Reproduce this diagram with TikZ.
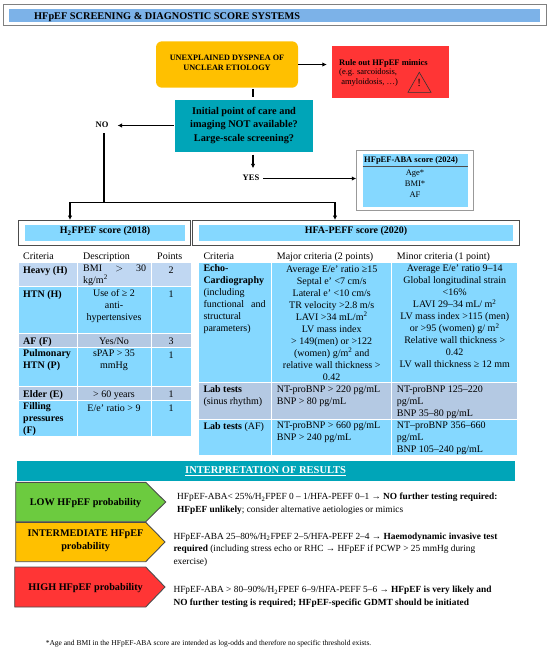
\documentclass[tikz,border=0pt]{standalone}
\usepackage{fontspec}
\usetikzlibrary{arrows.meta}
\setmainfont{Liberation Serif}
\definecolor{barblue}{HTML}{7CB2E8}
\definecolor{cellblue}{HTML}{85D8FF}
\definecolor{cellgrey}{HTML}{B4C9E3}
\definecolor{cellpale}{HTML}{C0D7F2}
\definecolor{tealbox}{HTML}{00A5B8}
\definecolor{orangebox}{HTML}{FFC000}
\definecolor{redbox}{HTML}{FF3535}
\definecolor{greenbox}{HTML}{6CCB3F}
\begin{document}
\begin{tikzpicture}[x=1pt,y=-1pt,>={Latex[length=4.5pt,width=4.5pt]},
  every node/.style={font=\fontsize{10}{12}\selectfont,execute at begin node=\strut},
  outerbox/.style={draw=black!50,line width=1pt,fill=white,inner sep=0pt},
  band/.style={inner sep=0pt},
  cell/.style={draw=white,line width=0.7pt},
  lft/.style={inner sep=0pt,anchor=north west,align=left,yshift=4.5pt},
  ctr/.style={inner sep=0pt,anchor=north,align=center,yshift=4.5pt},
  tag/.style={draw=black!70,line width=0.9pt},
  flow/.style={line width=1.1pt}]
\useasboundingbox (0,0) rectangle (550,651);
% title
\node[outerbox,minimum width=542.5pt,minimum height=20.7pt] (titlebox) at (274.8,15.3) {};
\node[band,fill=barblue,minimum width=531pt,minimum height=13pt] (titleband) at (274.5,15.5) {};
\node[lft,font=\fontsize{10.3}{12}\bfseries\selectfont] (titletext) at (34,15.3) {HFpEF SCREENING \& DIAGNOSTIC SCORE SYSTEMS};
% flow boxes
\node[band,fill=orangebox,rounded corners=6pt,minimum width=142pt,minimum height=46.4pt,align=center,font=\fontsize{8.2}{9.6}\bfseries\selectfont] (dyspnea) at (227,64.5) {UNEXPLAINED DYSPNEA OF\\UNCLEAR ETIOLOGY\strut};
\node[band,fill=redbox,minimum width=117pt,minimum height=51.7pt] (mimics) at (390.5,72.2) {};
\node[lft,font=\fontsize{8.5}{10}\bfseries\selectfont] (mimicshead) at (339,63) {Rule out HFpEF mimics};
\node[lft,font=\fontsize{8.5}{10}\selectfont] (mimicsbody) at (339,73) {(e.g. sarcoidosis,\\\ amyloidosis, \ldots)};
\draw[line width=0.6pt,black!80] (419.3,72.3) -- (431,92.3) -- (408,92.3) -- cycle;
\node[inner sep=0pt,font=\fontsize{11}{11}\selectfont] (mimicsmark) at (419.3,84) {!};
\node[band,fill=tealbox,minimum width=138pt,minimum height=52.3pt,align=center,font=\fontsize{10.3}{13.5}\bfseries\selectfont] (query) at (244,126.2) {Initial point of care and\\imaging NOT available?\\Large-scale screening?\strut};
\node[inner sep=0pt,font=\fontsize{8.5}{10}\bfseries\selectfont] (no) at (102,125.5) {NO};
\node[inner sep=0pt,font=\fontsize{8.5}{10}\bfseries\selectfont] (yes) at (251,178.5) {YES};
% ABA score
\node[outerbox,draw=black!40,minimum width=116.5pt,minimum height=60pt] (ababox) at (415,180.7) {};
\fill[cellblue] (362.7,154) rectangle (468,206.7);
\draw[black!70,line width=0.6pt] (362.7,166) -- (468,166);
\node[lft,font=\fontsize{8.5}{10}\bfseries\selectfont] (abahead) at (364,159.3) {HFpEF-ABA score (2024)};
\node[ctr,yshift=-2pt,font=\fontsize{8.5}{11.2}\selectfont] (ababody) at (415,171.7) {Age*\\BMI*\\AF};
% connectors
\draw[flow,->,shorten >=5pt] (dyspnea.east) -- (dyspnea.east -| mimics.west);
\draw[flow,shorten <=1.5pt,shorten >=2.5pt] ([xshift=26pt]dyspnea.south) -- ([xshift=26pt]dyspnea.south |- query.north);
\draw[flow,->,shorten <=1pt,shorten >=9pt] (no.east -| query.west) -- (no.east);
\draw[flow,->,shorten <=2pt,shorten >=5pt] ([xshift=9pt]query.south) -- ([xshift=9pt]query.south |- yes.north);
\draw[flow,->,shorten <=4pt] (yes.east) -- (yes.east -| ababox.west);
\coordinate (branchL) at (70,202.3);
\coordinate (branchM) at (104,202.3);
\coordinate (branchR) at (335,202.3);
\draw[flow,shorten <=2.5pt] (no.south -| branchM) -- (branchM);
\draw[flow,->] (branchL) -- (branchL |- 0,220);
\draw[flow,->] (branchR) -- (branchR |- 0,220);
\draw[flow] (branchL) -- (branchR);
% H2FPEF score
\node[outerbox,draw=black!70,minimum width=172pt,minimum height=25pt] (hfbox) at (104.7,232.5) {};
\node[band,fill=cellblue,minimum width=160pt,minimum height=16pt] (hfband) at (105,233) {};
\node[inner sep=0pt,font=\fontsize{10}{12}\bfseries\selectfont] (hftitle) at (105,231.5) {H\textsubscript{2}FPEF score (2018)};
\node[lft] (hfcrit) at (23,255) {Criteria};
\node[lft] (hfdesc) at (83,255) {Description};
\node[lft] (hfpts) at (157,255) {Points};
\foreach \ya/\yb/\col in {262.7/286.7/cellpale,286.7/333.3/cellblue,333.3/347.3/cellgrey,347.3/386.7/cellblue,386.7/400.7/cellgrey,400.7/436.7/cellblue}{
  \foreach \xa/\xb in {18/77.5,77.5/151,151/191}{
    \filldraw[cell,fill=\col] (\xa,\ya) rectangle (\xb,\yb);
  }
}
\node[lft,font=\fontsize{10}{12}\bfseries\selectfont] (heavy) at (23,269) {Heavy (H)};
\node[lft] (heavyd) at (83,269) {\hbox to 63pt{BMI\hfill $>$\hfill 30}\\kg/m\textsuperscript{2}};
\node[ctr] (heavyp) at (171,269) {2};
\node[lft,font=\fontsize{10}{12}\bfseries\selectfont] (htn) at (23,293.3) {HTN (H)};
\node[ctr] (htnd) at (114,293.3) {Use of ≥ 2\\anti-\\hypertensives};
\node[ctr] (htnp) at (171,293.3) {1};
\node[lft,font=\fontsize{10}{12}\bfseries\selectfont] (af) at (23,340) {AF (F)};
\node[ctr] (afd) at (114,340) {Yes/No};
\node[ctr] (afp) at (171,340) {3};
\node[lft,font=\fontsize{10}{12}\bfseries\selectfont] (pulm) at (23,354) {Pulmonary\\HTN (P)};
\node[ctr] (pulmd) at (114,354) {sPAP > 35\\mmHg};
\node[ctr] (pulmp) at (171,354) {1};
\node[lft,font=\fontsize{10}{12}\bfseries\selectfont] (elder) at (23,393.3) {Elder (E)};
\node[ctr] (elderd) at (114,393.3) {> 60 years};
\node[ctr] (elderp) at (171,393.3) {1};
\node[lft,font=\fontsize{10}{12}\bfseries\selectfont] (fill) at (23,407.3) {Filling\\pressures\\(F)};
\node[ctr] (filld) at (114,407.3) {E/e’ ratio > 9};
\node[ctr] (fillp) at (171,407.3) {1};
% HFA-PEFF score
\node[outerbox,draw=black!70,minimum width=326.7pt,minimum height=25pt] (hfabox) at (355.7,232.5) {};
\node[band,fill=cellblue,minimum width=314pt,minimum height=16pt] (hfaband) at (356,233) {};
\node[inner sep=0pt,font=\fontsize{10}{12}\bfseries\selectfont] (hfatitle) at (356,231.5) {HFA-PEFF score (2020)};
\node[lft] (hfacrit) at (203.3,255.7) {Criteria};
\node[lft] (hfamaj) at (276.7,255.7) {Major criteria (2 points)};
\node[lft] (hfamin) at (396.7,255.7) {Minor criteria (1 point)};
\foreach \ya/\yb/\col in {262.7/382.3/cellblue,382.3/419/cellgrey,419/455/cellblue}{
  \foreach \xa/\xb in {198.3/271.7,271.7/391.7,391.7/517.7}{
    \filldraw[cell,fill=\col] (\xa,\ya) rectangle (\xb,\yb);
  }
}
\node[lft] (echo) at (203.3,269.3) {\textbf{Echo-}\\\textbf{Cardiography}\\(including\\\hbox to 62pt{functional\hfill and}\\structural\\parameters)};
\node[ctr] (echomaj) at (331.7,270) {Average E/e’ ratio ≥15\\Septal e’ <7 cm/s\\Lateral e’ <10 cm/s\\TR velocity >2.8 m/s\\LAVI >34 mL/m\textsuperscript{2}\\LV mass index\\> 149(men) or >122\\(women) g/m\textsuperscript{2} and\\relative wall thickness >\\0.42};
\node[ctr] (echomin) at (454.7,269.3) {Average E/e’ ratio 9–14\\Global longitudinal strain\\<16\%\\LAVI 29–34 mL/ m\textsuperscript{2}\\LV mass index >115 (men)\\or >95 (women) g/ m\textsuperscript{2}\\Relative wall thickness >\\0.42\\LV wall thickness ≥ 12 mm};
\node[lft] (labsr) at (203.3,389.7) {\textbf{Lab tests}\\(sinus rhythm)};
\node[lft] (labsrmaj) at (276.7,389.7) {NT-proBNP > 220 pg/mL\\BNP > 80 pg/mL};
\node[lft] (labsrmin) at (396.7,389.7) {NT-proBNP 125–220\\pg/mL\\BNP 35–80 pg/mL};
\node[lft] (labaf) at (203.3,425.7) {\textbf{Lab tests} (AF)};
\node[lft] (labafmaj) at (276.7,425.7) {NT-proBNP > 660 pg/mL\\BNP > 240 pg/mL};
\node[lft] (labafmin) at (396.7,425.7) {NT–proBNP 356–660\\pg/mL\\BNP 105–240 pg/mL};
% interpretation
\node[band,fill=tealbox,minimum width=498pt,minimum height=20.3pt,text=white,font=\fontsize{10.5}{12}\bfseries\selectfont] (interp) at (265.6,471.2) {\underline{INTERPRETATION OF RESULTS}};
\draw[tag,fill=greenbox] (15.7,482.3) -- (145.7,482.3) -- (165.7,502) -- (145.7,521.7) -- (15.7,521.7) -- cycle;
\draw[tag,fill=orangebox] (15.7,522.3) -- (145.7,522.3) -- (165,542) -- (145.7,561.7) -- (15.7,561.7) -- cycle;
\draw[tag,fill=redbox] (14.7,567) -- (145.7,567) -- (165,587) -- (145.7,607) -- (14.7,607) -- cycle;
\node[inner sep=0pt,align=center,font=\fontsize{10.2}{13.5}\bfseries\selectfont] (low) at (85.6,503) {LOW HFpEF probability};
\node[inner sep=0pt,align=center,font=\fontsize{10.2}{13.5}\bfseries\selectfont] (mid) at (85.6,541.8) {INTERMEDIATE HFpEF\\probability\strut};
\node[inner sep=0pt,align=center,font=\fontsize{10.2}{13.5}\bfseries\selectfont] (high) at (85.6,587.7) {HIGH HFpEF probability};
\node[lft,font=\fontsize{9.35}{12.4}\selectfont] (lowtext) at (177,497.7) {HFpEF-ABA< 25\%/H\textsubscript{2}FPEF 0 – 1/HFA-PEFF 0–1 → \textbf{NO further testing required:}\\\textbf{HFpEF unlikely}; consider alternative aetiologies or mimics};
\node[lft,font=\fontsize{9.35}{12.4}\selectfont] (midtext) at (173.3,537.3) {HFpEF-ABA 25–80\%/H\textsubscript{2}FPEF 2–5/HFA-PEFF 2–4 → \textbf{Haemodynamic invasive test}\\\textbf{required} (including stress echo or RHC → HFpEF if PCWP > 25 mmHg during\\exercise)};
\node[lft,font=\fontsize{9.35}{12.4}\selectfont] (hightext) at (173.3,590.7) {HFpEF-ABA > 80–90\%/H\textsubscript{2}FPEF 6–9/HFA-PEFF 5–6 → \textbf{HFpEF is very likely and}\\\textbf{NO further testing is required; HFpEF-specific GDMT should be initiated}};
\node[lft,font=\fontsize{7.5}{9}\selectfont] (footnote) at (45.6,643.3) {*Age and BMI in the HFpEF-ABA score are intended as log-odds and therefore no specific threshold exists.};
\end{tikzpicture}
\end{document}
